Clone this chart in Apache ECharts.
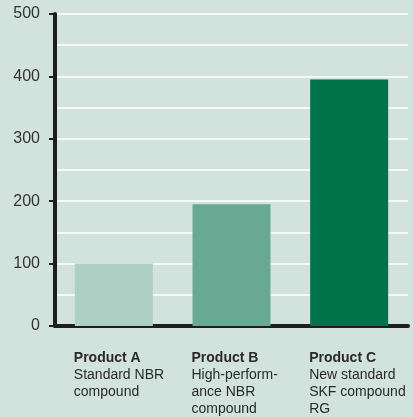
<!DOCTYPE html>
<html><head><meta charset="utf-8">
<script src="https://cdn.jsdelivr.net/npm/echarts@6/dist/echarts.min.js"></script>
<style>html,body{margin:0;padding:0;background:#d2e2dc;}#c{width:413px;height:417px;}</style>
</head><body><div id="c"></div>
<script>
const productNames = ['Product A', 'Product B', 'Product C'];
const productDescriptions = [
  ['Standard NBR', 'compound'],
  ['High-perform-', 'ance NBR', 'compound'],
  ['New standard', 'SKF compound', 'RG']
];
const values = [100, 195, 395];
const barColors = ['#aecfc3', '#69a993', '#00734a'];
const yTicks = [0, 100, 200, 300, 400, 500];

const chart = echarts.init(document.getElementById('c'));
const font = 'Liberation Sans, Arial, sans-serif';
chart.setOption({
  backgroundColor: '#d2e2dc',
  animation: false,
  grid: { left: 55, top: 14, right: 5, bottom: 91, containLabel: false },
  xAxis: {
    type: 'category',
    data: productNames.map((n, i) => n + '|' + productDescriptions[i].join('|')),
    axisLine: { lineStyle: { color: '#1e1e1e', width: 4 } },
    axisTick: { show: false },
    axisLabel: {
      margin: 24,
      interval: 0,
      formatter: function (v) {
        const parts = v.split('|');
        return ['{b|' + parts[0] + '}'].concat(parts.slice(1).map(p => '{r|' + p + '}')).join('\n');
      },
      rich: {
        b: { fontFamily: font, fontWeight: 'bold', fontSize: 14, color: '#2a2a2a', width: 80, align: 'left', lineHeight: 17 },
        r: { fontFamily: font, fontSize: 14, color: '#2a2a2a', width: 80, align: 'left', lineHeight: 17 }
      }
    }
  },
  yAxis: {
    type: 'value',
    min: yTicks[0],
    max: yTicks[yTicks.length - 1],
    interval: 100,
    axisLine: { show: true, lineStyle: { color: '#1e1e1e', width: 4 } },
    axisTick: { show: true, length: 6, lineStyle: { color: '#1e1e1e', width: 2 } },
    axisLabel: { fontFamily: font, fontSize: 16, color: '#333', margin: 15 },
    splitLine: { show: true, lineStyle: { color: '#ffffff', width: 1.5 } },
    minorTick: { show: false, splitNumber: 2 },
    minorSplitLine: { show: true, lineStyle: { color: '#ffffff', width: 1.5 } }
  },
  series: [{
    type: 'bar',
    barWidth: 78,
    data: values.map((v, i) => ({ value: v, itemStyle: { color: barColors[i] } }))
  }]
});
</script></body></html>
